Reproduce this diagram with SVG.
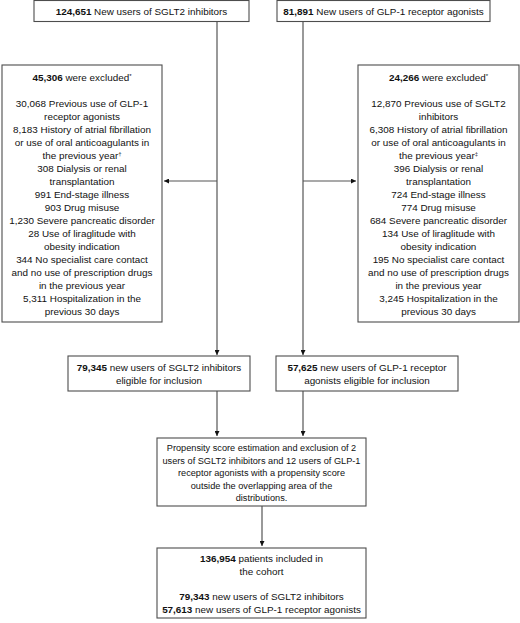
<svg xmlns="http://www.w3.org/2000/svg" width="520" height="623" viewBox="0 0 520 623">
<defs>
<style>
.box{fill:#fff;stroke:#4d4d4d;stroke-width:1.1}
.ln{stroke:#555;stroke-width:1.2;fill:none}
text{font-family:"Liberation Sans",Arial,sans-serif;font-size:9.9px;fill:#111;text-anchor:middle}
.b{font-weight:bold}
.sup{font-size:6px}
.sm{font-size:9.2px}
</style>
<marker id="ah" viewBox="0 0 10 10" refX="10" refY="5" markerWidth="5" markerHeight="5" markerUnits="userSpaceOnUse" orient="auto">
<path d="M0,0 L10,5 L0,10 z" fill="#111"/>
</marker>
</defs>
<rect width="520" height="623" fill="#fff"/>
<g id="connectors">
<line class="ln" x1="217" y1="21" x2="217" y2="355" marker-end="url(#ah)"/>
<line class="ln" x1="303" y1="21" x2="303" y2="355" marker-end="url(#ah)"/>
<line class="ln" x1="217" y1="181" x2="164" y2="181" marker-end="url(#ah)"/>
<line class="ln" x1="303" y1="181" x2="356" y2="181" marker-end="url(#ah)"/>
<line class="ln" x1="217" y1="391" x2="217" y2="436" marker-end="url(#ah)"/>
<line class="ln" x1="303" y1="391" x2="303" y2="436" marker-end="url(#ah)"/>
<line class="ln" x1="262" y1="506" x2="262" y2="546" marker-end="url(#ah)"/>
</g>
<g id="sglt2-start">
<rect class="box" x="34" y="0.5" width="215" height="21"/>
<text x="141.5" y="14.5"><tspan class="b">124,651</tspan> New users of SGLT2 inhibitors</text>
</g>
<g id="glp1-start">
<rect class="box" x="277" y="0.5" width="213" height="21"/>
<text x="383.5" y="14.5"><tspan class="b">81,891</tspan> New users of GLP-1 receptor agonists</text>
</g>
<g id="sglt2-excluded">
<rect class="box" x="2" y="65" width="160" height="257"/>
<text x="82" y="80.5"><tspan class="b">45,306</tspan> were excluded<tspan class="sup" dy="-3">*</tspan></text>
<text x="82" y="106.5">30,068 Previous use of GLP-1</text>
<text x="82" y="119.5">receptor agonists</text>
<text x="82" y="132.5">8,183 History of atrial fibrillation</text>
<text x="82" y="145.5">or use of oral anticoagulants in</text>
<text x="82" y="158.5">the previous year<tspan class="sup" dy="-3">†</tspan></text>
<text x="82" y="171.5">308 Dialysis or renal</text>
<text x="82" y="184.5">transplantation</text>
<text x="82" y="197.5">991 End-stage illness</text>
<text x="82" y="210.5">903 Drug misuse</text>
<text x="82" y="223.5">1,230 Severe pancreatic disorder</text>
<text x="82" y="236.5">28 Use of liraglitude with</text>
<text x="82" y="249.5">obesity indication</text>
<text x="82" y="262.5">344 No specialist care contact</text>
<text x="82" y="275.5">and no use of prescription drugs</text>
<text x="82" y="288.5">in the previous year</text>
<text x="82" y="301.5">5,311 Hospitalization in the</text>
<text x="82" y="314.5">previous 30 days</text>
</g>
<g id="glp1-excluded">
<rect class="box" x="358" y="65" width="161" height="257"/>
<text x="438.5" y="80.5"><tspan class="b">24,266</tspan> were excluded<tspan class="sup" dy="-3">*</tspan></text>
<text x="438.5" y="106.5">12,870 Previous use of SGLT2</text>
<text x="438.5" y="119.5">inhibitors</text>
<text x="438.5" y="132.5">6,308 History of atrial fibrillation</text>
<text x="438.5" y="145.5">or use of oral anticoagulants in</text>
<text x="438.5" y="158.5">the previous year<tspan class="sup" dy="-3">‡</tspan></text>
<text x="438.5" y="171.5">396 Dialysis or renal</text>
<text x="438.5" y="184.5">transplantation</text>
<text x="438.5" y="197.5">724 End-stage illness</text>
<text x="438.5" y="210.5">774 Drug misuse</text>
<text x="438.5" y="223.5">684 Severe pancreatic disorder</text>
<text x="438.5" y="236.5">134 Use of liraglitude with</text>
<text x="438.5" y="249.5">obesity indication</text>
<text x="438.5" y="262.5">195 No specialist care contact</text>
<text x="438.5" y="275.5">and no use of prescription drugs</text>
<text x="438.5" y="288.5">in the previous year</text>
<text x="438.5" y="301.5">3,245 Hospitalization in the</text>
<text x="438.5" y="314.5">previous 30 days</text>
</g>
<g id="sglt2-eligible">
<rect class="box" x="68" y="356" width="182" height="35"/>
<text x="159" y="370.5"><tspan class="b">79,345</tspan> new users of SGLT2 inhibitors</text>
<text x="159" y="383.5">eligible for inclusion</text>
</g>
<g id="glp1-eligible">
<rect class="box" x="276" y="356" width="182" height="35"/>
<text x="367" y="370.5"><tspan class="b">57,625</tspan> new users of GLP-1 receptor</text>
<text x="367" y="383.5">agonists eligible for inclusion</text>
</g>
<g id="propensity">
<rect class="box" x="157" y="438" width="209" height="68"/>
<text class="sm" x="261.5" y="451">Propensity score estimation and exclusion of 2</text>
<text class="sm" x="261.5" y="463.5">users of SGLT2 inhibitors and 12 users of GLP-1</text>
<text class="sm" x="261.5" y="476">receptor agonists with a propensity score</text>
<text class="sm" x="261.5" y="488.5">outside the overlapping area of the</text>
<text class="sm" x="261.5" y="501">distributions.</text>
</g>
<g id="cohort">
<rect class="box" x="157" y="548" width="209" height="70"/>
<text x="261.5" y="562"><tspan class="b">136,954</tspan> patients included in</text>
<text x="261.5" y="575">the cohort</text>
<text x="261.5" y="600"><tspan class="b">79,343</tspan> new users of SGLT2 inhibitors</text>
<text x="261.5" y="613"><tspan class="b">57,613</tspan> new users of GLP-1 receptor agonists</text>
</g>
</svg>
